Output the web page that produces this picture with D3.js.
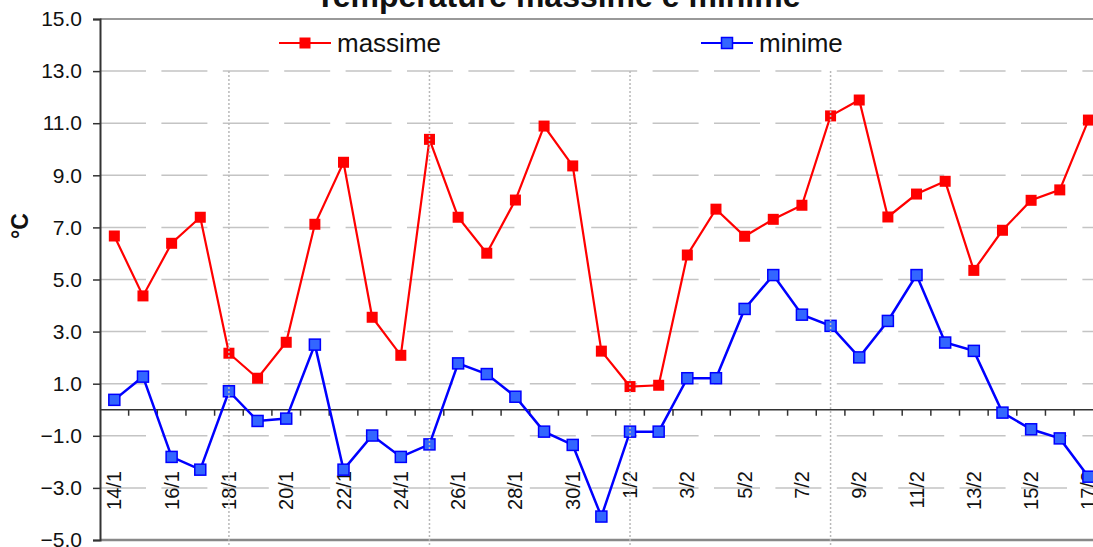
<!DOCTYPE html>
<html>
<head>
<meta charset="UTF-8">
<title>Temperature massime e minime</title>
<script src="https://d3js.org/d3.v7.min.js"></script>
<style>
  body { margin: 0; background: #fff; }
  text { font-family: "Liberation Sans", Arial, sans-serif; fill: #111; }
</style>
</head>
<body>
<script>
// dati
var giorni = ["14/1","15/1","16/1","17/1","18/1","19/1","20/1","21/1","22/1","23/1","24/1","25/1",
  "26/1","27/1","28/1","29/1","30/1","31/1","1/2","2/2","3/2","4/2","5/2","6/2","7/2","8/2",
  "9/2","10/2","11/2","12/2","13/2","14/2","15/2","16/2","17/2"];
var massime = [6.67,4.37,6.39,7.39,2.17,1.21,2.59,7.12,9.50,3.55,2.09,10.38,
  7.39,6.01,8.05,10.89,9.36,2.25,0.89,0.94,5.94,7.70,6.66,7.31,7.85,11.28,
  11.89,7.40,8.28,8.77,5.35,6.89,8.04,8.44,11.12];
var minime = [0.38,1.27,-1.81,-2.30,0.71,-0.43,-0.34,2.50,-2.30,-0.99,-1.81,-1.33,
  1.78,1.37,0.50,-0.84,-1.35,-4.10,-0.84,-0.84,1.21,1.21,3.87,5.17,3.65,3.22,
  2.01,3.41,5.17,2.58,2.26,-0.11,-0.75,-1.10,-2.57];
var yTicks = [-5,-3,-1,1,3,5,7,9,11,13,15];
var settimane = ["18/1","25/1","1/2","8/2"];

var width = 1093, height = 547;
var plotLeft = 100, plotTop = 19, plotBottom = 540;
var step = 28.65;

var svg = d3.select("body").append("svg")
  .attr("width", width)
  .attr("height", height);

var x = d3.scaleBand()
  .domain(giorni)
  .range([plotLeft, plotLeft + giorni.length * step]);
var y = d3.scaleLinear()
  .domain([-5, 15])
  .range([plotBottom, plotTop]);
var plotRight = x.range()[1];
function cx(d) { return x(d) + x.bandwidth() / 2; }

// griglia orizzontale tratteggiata
svg.append("g").selectAll("line")
  .data(yTicks.filter(function (t) { return t > -5 && t < 15; }))
  .enter().append("line")
  .attr("x1", plotLeft).attr("x2", plotRight)
  .attr("y1", function (d) { return y(d); })
  .attr("y2", function (d) { return y(d); })
  .attr("stroke", "#c4c4c4")
  .attr("stroke-width", 1.5)
  .attr("stroke-dasharray", "46,15.4");

// bordi area
svg.append("line").attr("x1", plotLeft).attr("x2", plotRight).attr("y1", plotTop).attr("y2", plotTop)
  .attr("stroke", "#999").attr("stroke-width", 2);
svg.append("line").attr("x1", plotLeft).attr("x2", plotRight).attr("y1", plotBottom).attr("y2", plotBottom)
  .attr("stroke", "#888").attr("stroke-width", 2.5);

// asse y
var yAxis = svg.append("g")
  .attr("transform", "translate(" + plotLeft + ",0)")
  .call(d3.axisLeft(y).tickValues(yTicks).tickFormat(d3.format(".1f")).tickSize(7).tickPadding(11));
yAxis.select(".domain").attr("stroke", "#333").attr("stroke-width", 2);
yAxis.selectAll(".tick line").attr("stroke", "#333").attr("stroke-width", 1.5);
yAxis.selectAll("text").style("font-size", "21px").attr("fill", "#111")
  .style("font-family", "'Liberation Sans', Arial, sans-serif");

// linea dello zero con tacche
var y0 = y(0);
svg.append("line").attr("x1", plotLeft).attr("x2", plotRight).attr("y1", y0).attr("y2", y0)
  .attr("stroke", "#333").attr("stroke-width", 1.5);
svg.append("g").selectAll("line")
  .data(giorni.slice(1))
  .enter().append("line")
  .attr("x1", function (d) { return x(d); })
  .attr("x2", function (d) { return x(d); })
  .attr("y1", y0).attr("y2", y0 + 6)
  .attr("stroke", "#333").attr("stroke-width", 1.5);

// etichette asse x
svg.append("g").selectAll("text")
  .data(giorni.filter(function (d, i) { return i % 2 === 0; }))
  .enter().append("text")
  .attr("transform", function (d) { return "translate(" + cx(d) + ",471) rotate(-90)"; })
  .attr("text-anchor", "end")
  .attr("dy", "0.35em")
  .style("font-size", "20px")
  .text(function (d) { return d; });

// serie
var line = d3.line()
  .x(function (d, i) { return cx(giorni[i]); })
  .y(function (d) { return y(d); });

svg.append("path").datum(massime)
  .attr("d", line).attr("fill", "none")
  .attr("stroke", "#ff0000").attr("stroke-width", 2.2);
svg.append("path").datum(minime)
  .attr("d", line).attr("fill", "none")
  .attr("stroke", "#0000ff").attr("stroke-width", 2.5);

var ms = 11;
svg.append("g").selectAll("rect")
  .data(massime)
  .enter().append("rect")
  .attr("x", function (d, i) { return cx(giorni[i]) - ms / 2; })
  .attr("y", function (d) { return y(d) - ms / 2; })
  .attr("width", ms).attr("height", ms)
  .attr("fill", "#ff0000");
svg.append("g").selectAll("rect")
  .data(minime)
  .enter().append("rect")
  .attr("x", function (d, i) { return cx(giorni[i]) - ms / 2; })
  .attr("y", function (d) { return y(d) - ms / 2; })
  .attr("width", ms).attr("height", ms)
  .attr("fill", "#3366ff")
  .attr("stroke", "#0000ff").attr("stroke-width", 1.5);

// separatori settimanali
svg.append("g").selectAll("line")
  .data(settimane)
  .enter().append("line")
  .attr("x1", function (d) { return cx(d); })
  .attr("x2", function (d) { return cx(d); })
  .attr("y1", y(13)).attr("y2", height)
  .attr("stroke", "#b8b8b8")
  .attr("stroke-width", 1.5)
  .attr("stroke-dasharray", "2,2");

// titolo e asse y
svg.append("text")
  .attr("x", 558).attr("y", 7)
  .attr("text-anchor", "middle")
  .style("font-size", "32px").style("font-weight", "bold")
  .text("Temperature massime e minime");

svg.append("text")
  .attr("transform", "translate(20,226) rotate(-90)")
  .attr("text-anchor", "middle")
  .attr("dy", "0.35em")
  .style("font-size", "23px").style("font-weight", "bold")
  .text("°C");

// legenda
var legenda = [
  { nome: "massime", x: 279, fill: "#ff0000", stroke: "none", line: "#ff0000" },
  { nome: "minime", x: 701, fill: "#3366ff", stroke: "#0000ff", line: "#0000ff" }
];
var lg = svg.append("g").selectAll("g")
  .data(legenda)
  .enter().append("g")
  .attr("transform", function (d) { return "translate(" + d.x + ",43)"; });
lg.append("line").attr("x1", 0).attr("x2", 52)
  .attr("stroke", function (d) { return d.line; }).attr("stroke-width", 2.2);
lg.append("rect").attr("x", 26 - ms / 2).attr("y", -ms / 2)
  .attr("width", ms).attr("height", ms)
  .attr("fill", function (d) { return d.fill; })
  .attr("stroke", function (d) { return d.stroke; }).attr("stroke-width", 1.5);
lg.append("text").attr("x", 58).attr("dy", "0.35em")
  .style("font-size", "26px")
  .text(function (d) { return d.nome; });
</script>
</body>
</html>
